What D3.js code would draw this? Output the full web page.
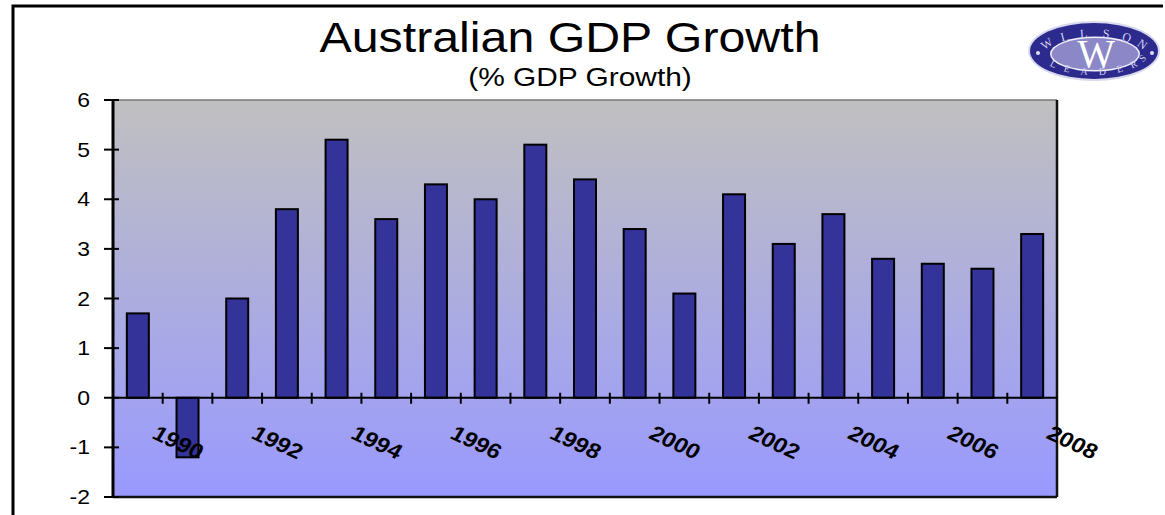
<!DOCTYPE html>
<meta charset="utf-8">
<style>
 body { margin: 0; background: #fff; }
 svg { display: block; font-family: "Liberation Sans", Arial, sans-serif; }
</style>
<body>
<script src="https://cdn.jsdelivr.net/npm/d3@7"></script>
<script>

 // data
 var years  = [1989, 1990, 1991, 1992, 1993, 1994, 1995, 1996, 1997, 1998,
               1999, 2000, 2001, 2002, 2003, 2004, 2005, 2006, 2007];
 var growth = [1.7, -1.2, 2.0, 3.8, 5.2, 3.6, 4.3, 4.0, 5.1, 4.4,
               3.4, 2.1, 4.1, 3.1, 3.7, 2.8, 2.7, 2.6, 3.3];
 var yTicks = [-2, -1, 0, 1, 2, 3, 4, 5, 6];
 var xLabels = [1990, 1992, 1994, 1996, 1998, 2000, 2002, 2004, 2006, 2008];

 var W = 1165, H = 515;
 var margin = {top: 100, right: 108, bottom: 18, left: 113},
     width = W - margin.left - margin.right,
     height = H - margin.top - margin.bottom;
 var stretch = 1.15; // the original picture is a bit wider than tall

 var svg = d3.select("body").append("svg")
             .attr("width", W)
             .attr("height", H);

 var defs = svg.append("defs");
 var grad = defs.append("linearGradient")
                .attr("id", "bg")
                .attr("x1", 0).attr("y1", 0).attr("x2", 0).attr("y2", 1);
 grad.append("stop").attr("offset", "0%").attr("stop-color", "#c0c0c0");
 grad.append("stop").attr("offset", "100%").attr("stop-color", "#9999ff");

 // outer frame (top and left only)
 svg.append("path")
    .attr("d", "M13,515 V6 H1163")
    .attr("fill", "none")
    .attr("stroke", "#000")
    .attr("stroke-width", 3);

 // titles
 function stretchedText(sel, x, y, size, txt) {
     return sel.append("text")
               .attr("transform", "translate(" + x + "," + y + ") scale(" + stretch + ",1)")
               .attr("text-anchor", "middle")
               .attr("font-size", size)
               .text(txt);
 }
 stretchedText(svg, 570, 52, 42, "Australian GDP Growth");
 stretchedText(svg, 580, 86, 26, "(% GDP Growth)");

 // logo
 var logo = svg.append("g").attr("transform", "translate(1094,51)");
 logo.append("ellipse").attr("rx", 66).attr("ry", 30)
     .attr("fill", "#d8d8ee");
 logo.append("ellipse").attr("rx", 64).attr("ry", 28)
     .attr("fill", "#2d2a8e");
 logo.append("ellipse").attr("cx", 1).attr("cy", 3).attr("rx", 45).attr("ry", 17.5)
     .attr("fill", "#f0f0fa");
 logo.append("ellipse").attr("cx", 1).attr("cy", 3).attr("rx", 43.5).attr("ry", 16)
     .attr("fill", "#8c88c8");
 logo.selectAll("circle.dot")
     .data([-56, 58])
     .enter().append("circle")
     .attr("class", "dot")
     .attr("cx", function(d) { return d; })
     .attr("cy", 2)
     .attr("r", 2)
     .attr("fill", "#e0e0f4");

 // ring letters, one by one round the ellipse
 function ringLetters(txt, t0, t1, a, b, cy, top, size) {
     var letters = txt.split("");
     logo.selectAll(null)
         .data(letters)
         .enter().append("text")
         .attr("font-family", "'Liberation Serif', serif")
         .attr("font-size", size)
         .attr("fill", "#d4d2ee")
         .attr("text-anchor", "middle")
         .attr("transform", function(d, i) {
             var t = (t0 + (t1 - t0) * i / (letters.length - 1)) * Math.PI / 180;
             var x = a * Math.cos(t);
             var y = top ? cy - b * Math.sin(t) : cy + b * Math.sin(t);
             var ang = top ? Math.atan2(b * Math.cos(t), a * Math.sin(t))
                           : Math.atan2(-b * Math.cos(t), a * Math.sin(t));
             return "translate(" + x + "," + y + ") rotate(" + (ang * 180 / Math.PI) + ")";
         })
         .text(function(d) { return d; });
 }
 ringLetters("WILSON", 150, 28, 52, 20, 6, true, 12);
 ringLetters("LEADERS", 140, 22, 55, 23, 1, false, 10);

 logo.append("text")
     .attr("x", 2).attr("y", 16)
     .attr("text-anchor", "middle")
     .attr("font-family", "'Liberation Serif', serif")
     .attr("font-size", 40)
     .attr("fill", "#ffffff")
     .text("W");

 // chart
 var xScale = d3.scaleLinear()
                .domain([1989, 2008])
                .range([0, width]);
 var yScale = d3.scaleLinear()
                .domain([-2, 6])
                .range([height, 0]);

 var chart = svg.append("g")
                .attr("transform", "translate(" + margin.left + "," + margin.top + ")");

 chart.append("rect")
      .attr("width", width)
      .attr("height", height)
      .attr("fill", "url(#bg)");

 // plot border
 chart.append("line")
      .attr("x1", 0).attr("x2", width).attr("y1", 0).attr("y2", 0)
      .attr("stroke", "#777").attr("stroke-width", 1.5);
 chart.append("line")
      .attr("x1", width).attr("x2", width).attr("y1", 0).attr("y2", height)
      .attr("stroke", "#111").attr("stroke-width", 2.5);
 chart.append("line")
      .attr("x1", 0).attr("x2", width).attr("y1", height).attr("y2", height)
      .attr("stroke", "#111").attr("stroke-width", 2.5);

 // bars
 var barW = 22;
 chart.selectAll("rect.bar")
      .data(years)
      .enter().append("rect")
      .attr("class", "bar")
      .attr("x", function(d) { return (xScale(d) + xScale(d + 1)) / 2 - barW / 2; })
      .attr("width", barW)
      .attr("y", function(d, i) { return yScale(Math.max(0, growth[i])); })
      .attr("height", function(d, i) { return Math.abs(yScale(growth[i]) - yScale(0)); })
      .attr("fill", "#333399")
      .attr("stroke", "#000")
      .attr("stroke-width", 2);

 // y axis
 var gY = chart.append("g");
 gY.append("line")
   .attr("x1", 0).attr("x2", 0).attr("y1", 0).attr("y2", height)
   .attr("stroke", "#000").attr("stroke-width", 3);
 var yt = gY.selectAll("g.ytick")
            .data(yTicks)
            .enter().append("g")
            .attr("class", "ytick")
            .attr("transform", function(d) { return "translate(0," + yScale(d) + ")"; });
 yt.append("line")
   .attr("x1", -9).attr("x2", 6)
   .attr("stroke", "#000").attr("stroke-width", 2);
 yt.append("text")
   .attr("transform", "translate(-23,7) scale(" + stretch + ",1)")
   .attr("text-anchor", "end")
   .attr("font-size", 20)
   .text(function(d) { return d; });

 // x axis on the zero line
 var gX = chart.append("g").attr("transform", "translate(0," + yScale(0) + ")");
 gX.append("line")
   .attr("x1", 0).attr("x2", width)
   .attr("stroke", "#000").attr("stroke-width", 2);
 gX.selectAll("line.xtick")
   .data(d3.range(1990, 2008))
   .enter().append("line")
   .attr("class", "xtick")
   .attr("x1", function(d) { return xScale(d); })
   .attr("x2", function(d) { return xScale(d); })
   .attr("y1", -5).attr("y2", 6)
   .attr("stroke", "#000").attr("stroke-width", 2);
 gX.selectAll("text.xlab")
   .data(xLabels)
   .enter().append("text")
   .attr("class", "xlab")
   .attr("transform", function(d) {
       return "translate(" + (xScale(d) - 12) + ",40) scale(" + stretch + ",1) rotate(28)";
   })
   .attr("font-size", 21)
   .attr("font-weight", "bold")
   .text(function(d) { return d; });

</script>
